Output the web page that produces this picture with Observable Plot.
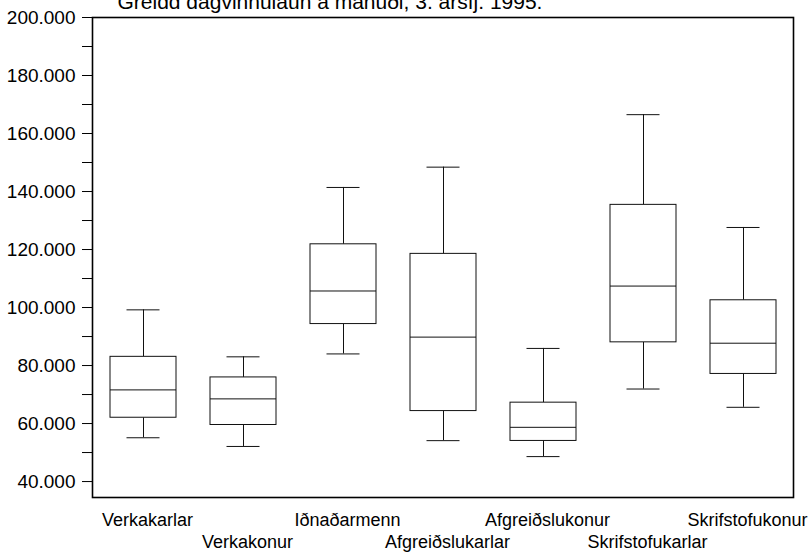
<!DOCTYPE html>
<html><head><meta charset="utf-8">
<script src="https://cdn.jsdelivr.net/npm/d3@7"></script>
<script src="https://cdn.jsdelivr.net/npm/@observablehq/plot@0.6"></script>
<style>body{margin:0;background:#fff;} #chart svg{display:block;}</style>
</head><body><div id="chart"></div>
<script>
const title = "Greidd dagvinnulaun á mánuði, 3. ársfj. 1995.";
const categories = ["Verkakarlar","Verkakonur","Iðnaðarmenn","Afgreiðslukarlar","Afgreiðslukonur","Skrifstofukarlar","Skrifstofukonur"];
const whiskerLow  = [55100, 52100, 84000, 54100, 48600, 71900, 65600];
const quartile1   = [62000, 59500, 94300, 64300, 54000, 88000, 77100];
const medians     = [71600, 68500, 105700, 89800, 58700, 107400, 87700];
const quartile3   = [83000, 75900, 121800, 118500, 67200, 135400, 102500];
const whiskerHigh = [99200, 83000, 141400, 148400, 85900, 166500, 127600];
const yTicks = [40000, 60000, 80000, 100000, 120000, 140000, 160000, 180000, 200000];
const yMinorTicks = [50000, 70000, 90000, 110000, 130000, 150000, 170000, 190000];

const rows = categories.map((c, i) => ({cat: c, lo: whiskerLow[i], q1: quartile1[i], med: medians[i], q3: quartile3[i], hi: whiskerHigh[i]}));
const topRowLabels = categories.filter((c, i) => i % 2 === 0);
const bottomRowLabels = categories.filter((c, i) => i % 2 === 1);

const isl = d3.formatLocale({decimal: ",", thousands: ".", grouping: [3], currency: ["", " kr."]});
const fmt = isl.format(",");

const chart = Plot.plot({
  width: 808, height: 552,
  marginLeft: 92, marginRight: 15, marginTop: 17, marginBottom: 55,
  style: {fontFamily: "'Liberation Sans', Arial, sans-serif", fontSize: "18px", background: "#fff", color: "#000"},
  x: {domain: categories, paddingInner: 0.34, paddingOuter: 0.17, axis: null, label: null},
  y: {domain: [34500, 200000], axis: null, label: null},
  marks: [
    Plot.axisY(yTicks, {tickSize: 10, tickPadding: 7, tickFormat: fmt, fontSize: 19, label: null}),
    Plot.axisY(yMinorTicks, {tickSize: 10, tickFormat: () => "", label: null}),
    Plot.axisX(topRowLabels, {tickSize: 0, tickPadding: 16, dx: 4, fontSize: 18, label: null}),
    Plot.axisX(bottomRowLabels, {tickSize: 0, tickPadding: 38, dx: 4, fontSize: 18, label: null}),
    Plot.ruleX(rows, {x: "cat", y1: "lo", y2: "q1", stroke: "#111", strokeWidth: 1}),
    Plot.ruleX(rows, {x: "cat", y1: "q3", y2: "hi", stroke: "#111", strokeWidth: 1}),
    Plot.barY(rows, {x: "cat", y1: "q1", y2: "q3", fill: "white", stroke: "#111", strokeWidth: 1}),
    Plot.tickY(rows, {x: "cat", y: "med", stroke: "#111", strokeWidth: 1}),
    Plot.tickY(rows, {x: "cat", y: "lo", stroke: "#111", strokeWidth: 1, insetLeft: 16.5, insetRight: 16.5}),
    Plot.tickY(rows, {x: "cat", y: "hi", stroke: "#111", strokeWidth: 1, insetLeft: 16.5, insetRight: 16.5}),
    Plot.frame({stroke: "#000", strokeWidth: 1.6}),
    Plot.text([title], {text: d => d, frameAnchor: "top-left", dx: 25, dy: -9, lineAnchor: "bottom", textAnchor: "start", fontSize: 21, fill: "#000"})
  ]
});
document.getElementById("chart").appendChild(chart);
</script>
</body></html>
